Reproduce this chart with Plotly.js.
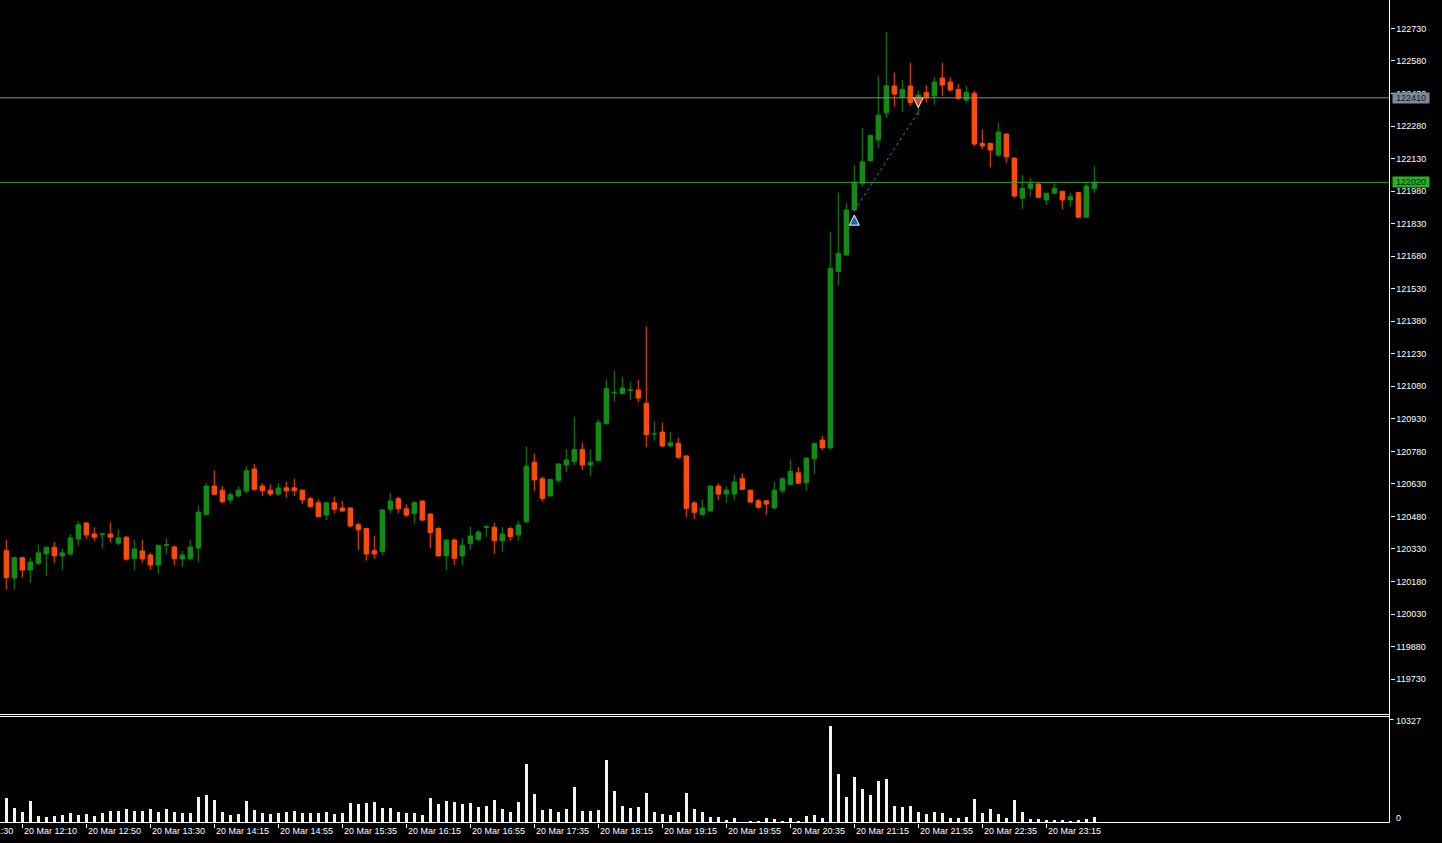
<!DOCTYPE html>
<html>
<head>
<meta charset="utf-8">
<script src="https://cdn.plot.ly/plotly-3.0.1.min.js"></script>
<style>
html,body{margin:0;padding:0;background:#000;overflow:hidden}
#chart{width:1442px;height:843px}
</style>
</head>
<body>
<div id="chart"></div>
<script>
// ---- data (5-minute bars, 20 Mar) ----
const opens = [120322,120196,120290,120233,120264,120307,120338,120298,120307,120376,120450,120399,120398,120399,120356,120384,120285,120321,120302,120256,120347,120339,120284,120285,120334,120488,120620,120601,120556,120574,120597,120699,120620,120601,120583,120612,120612,120601,120562,120543,120486,120543,120519,120519,120442,120424,120322,120318,120513,120562,120515,120494,120551,120491,120424,120298,120371,120298,120356,120374,120430,120430,120368,120424,120395,120456,120730,120654,120574,120645,120717,120733,120789,120717,120737,120907,121050,121046,121061,121063,121002,120860,120869,120805,120817,120759,120542,120488,120505,120620,120583,120583,120654,120601,120552,120552,120519,120598,120627,120681,120636,120746,120832,120796,121609,121685,121893,122016,122120,122215,122341,122464,122413,122464,122385,122434,122418,122501,122483,122449,122400,122431,122200,122200,122146,122243,122132,121947,121993,122013,121939,121970,121979,121939,121973,121859,121991];
const highs = [120371,120292,120292,120289,120349,120340,120362,120332,120399,120459,120452,120430,120400,120453,120422,120390,120371,120371,120313,120349,120379,120347,120321,120371,120528,120633,120691,120620,120591,120620,120712,120722,120633,120628,120633,120639,120654,120603,120571,120559,120545,120571,120552,120521,120452,120426,120390,120512,120589,120571,120536,120551,120553,120493,120433,120373,120379,120379,120433,120416,120440,120451,120430,120433,120461,120802,120771,120663,120653,120724,120789,120940,120820,120789,120928,121112,121152,121124,121101,121109,121355,120920,120912,120869,120843,120761,120551,120559,120622,120633,120617,120672,120679,120603,120562,120554,120639,120656,120743,120709,120751,120819,120851,121793,121973,121924,122100,122269,122239,122510,122715,122526,122492,122572,122443,122468,122505,122572,122505,122474,122465,122443,122265,122202,122295,122245,122134,122054,122039,122019,121972,122016,121981,121973,121975,122016,122096];
const lows = [120144,120144,120198,120175,120256,120205,120264,120233,120298,120345,120376,120368,120332,120359,120344,120276,120233,120267,120233,120214,120307,120256,120247,120276,120267,120486,120577,120540,120540,120568,120586,120598,120574,120574,120574,120566,120574,120537,120523,120477,120463,120494,120503,120429,120325,120276,120285,120301,120494,120494,120477,120448,120461,120333,120296,120233,120256,120256,120325,120364,120386,120307,120317,120368,120368,120448,120597,120548,120572,120633,120685,120717,120694,120667,120735,120905,121009,121044,121017,121007,120799,120829,120799,120799,120746,120476,120467,120486,120503,120556,120543,120556,120603,120544,120516,120488,120516,120586,120625,120630,120598,120675,120786,120786,121547,121683,121885,122000,122117,122177,122316,122369,122346,122372,122331,122388,122377,122418,122438,122400,122388,122188,122173,122089,122138,122110,121947,121896,121954,121949,121916,121968,121896,121908,121857,121857,121970];
const closes = [120198,120290,120233,120270,120312,120338,120298,120312,120381,120442,120395,120384,120400,120384,120381,120283,120330,120284,120256,120347,120349,120285,120302,120339,120500,120620,120582,120548,120580,120601,120691,120605,120598,120583,120611,120598,120598,120556,120525,120479,120543,120513,120505,120436,120418,120307,120307,120510,120551,120515,120486,120543,120463,120405,120298,120371,120287,120347,120390,120408,120432,120368,120399,120387,120441,120712,120648,120563,120651,120722,120740,120789,120717,120730,120912,121070,121052,121072,121063,121026,120857,120862,120805,120820,120753,120516,120499,120519,120620,120583,120601,120639,120605,120546,120522,120537,120601,120654,120688,120633,120749,120817,120796,121624,121693,121893,122016,122115,122237,122330,122465,122427,122449,122388,122423,122409,122483,122469,122446,122408,122434,122197,122188,122169,122252,122138,121957,121993,122013,121951,121970,121993,121939,121954,121859,122003,122019];
const volumes = [2400,1500,1100,2100,700,600,700,800,1000,800,900,700,1000,1200,1200,1400,1200,1200,1400,1100,1400,1100,1000,1000,2500,2700,2200,1100,800,900,2100,1300,1000,900,1000,1100,1200,1000,1000,1000,1100,900,1000,1900,1800,1900,2000,1500,1500,1100,1000,1000,800,2400,1800,2100,2000,1800,1900,1600,1700,2200,1400,1100,2000,5800,2800,1300,1400,1100,1400,3500,1200,1200,1300,6200,3100,1700,1500,1600,2900,1100,900,800,1100,2900,1400,1100,600,600,300,500,100,200,200,500,400,200,500,200,700,800,500,9650,4800,2500,4500,3300,2700,4100,4300,1700,1600,1700,1100,900,1100,1000,500,500,600,2300,1000,1400,900,500,2200,1100,400,400,300,300,300,200,300,400,600];

const timeTickBars = [2,10,18,26,34,42,50,58,66,74,82,90,98,106,114,122,130];
const timeTickLabels = ['20 Mar 12:10','20 Mar 12:50','20 Mar 13:30','20 Mar 14:15','20 Mar 14:55','20 Mar 15:35','20 Mar 16:15','20 Mar 16:55','20 Mar 17:35','20 Mar 18:15','20 Mar 19:15','20 Mar 19:55','20 Mar 20:35','20 Mar 21:15','20 Mar 21:55','20 Mar 22:35','20 Mar 23:15'];
const cutOffLabel = '20 Mar 11:30';
const priceTicks = [119730,119880,120030,120180,120330,120480,120630,120780,120930,121080,121230,121380,121530,121680,121830,121980,122130,122280,122430,122580,122730];
const volumeMaxLabel = 10327;
const levelPrice = 122410;   // grey horizontal level
const bidPrice = 122020;     // current bid line
const tradeBars = [106, 114];
const tradePrices = [121889, 122345];

// ---- drawing ----
const W = 1442, H = 843;
const AXX = 1389.5;              // right price-scale line (px)
const MAIN_BOTTOM = 714;         // px
const VOL_BOTTOM = 822.5, VOL_TOP = 719.2;
const fy = y => (H - y) / H;
const barIdx = opens.map((_, i) => i);

const GREEN = '#138c13', RED = '#ff4a0a';
const FONT = 'Liberation Sans, Arial, sans-serif';

const traces = [
  {
    type: 'candlestick', x: barIdx, open: opens, high: highs, low: lows, close: closes,
    xaxis: 'x', yaxis: 'y', whiskerwidth: 0, hoverinfo: 'skip',
    increasing: {line: {color: GREEN, width: 1}, fillcolor: GREEN},
    decreasing: {line: {color: RED, width: 1}, fillcolor: RED}
  },
  {
    type: 'bar', x: barIdx, y: volumes, xaxis: 'x', yaxis: 'y2', width: 0.42,
    marker: {color: '#f5f5ee', line: {width: 0}}, hoverinfo: 'skip'
  },
  {
    type: 'scatter', mode: 'lines', x: tradeBars, y: tradePrices, xaxis: 'x', yaxis: 'y',
    line: {color: '#3d74b8', width: 1, dash: 'dot'}, hoverinfo: 'skip'
  },
  {
    type: 'scatter', mode: 'markers', x: [tradeBars[0]], y: [tradePrices[0] - 20], xaxis: 'x', yaxis: 'y',
    marker: {symbol: 'arrow-up', size: 10, color: '#1d63c6', line: {color: '#ffffff', width: 1}}, hoverinfo: 'skip'
  },
  {
    type: 'scatter', mode: 'markers', x: [tradeBars[1]], y: [tradePrices[1] + 20], xaxis: 'x', yaxis: 'y',
    marker: {symbol: 'arrow-down', size: 10, color: '#e8402a', line: {color: '#ffffff', width: 1}}, hoverinfo: 'skip'
  }
];

const lineW = (x0, y0, x1, y1, c) => ({type: 'line', xref: 'paper', yref: 'paper',
  x0: x0 / W, x1: x1 / W, y0: fy(y0), y1: fy(y1), line: {color: c || '#ffffff', width: 1}});

const timeAnnotations = timeTickBars.map((b, i) => ({
  xref: 'x', x: b, xanchor: 'left', xshift: 0, yref: 'paper', y: fy(831), yanchor: 'middle',
  text: timeTickLabels[i], showarrow: false, font: {family: FONT, size: 9, color: '#ffffff'}
}));

const layout = {
  width: W, height: H, margin: {l: 0, r: 0, t: 0, b: 0},
  paper_bgcolor: '#000', plot_bgcolor: '#000', showlegend: false, hovermode: false,
  boxgap: 0.45, boxgroupgap: 0, bargap: 0,
  font: {family: FONT, size: 9, color: '#ffffff'},
  xaxis: {
    domain: [0, AXX / W], range: [(0 - 6.3) / 8, (AXX - 6.3) / 8], anchor: 'y2',
    showgrid: false, zeroline: false, showline: false,
    ticks: 'outside', ticklen: 4, tickwidth: 1, tickcolor: '#ffffff',
    tickmode: 'array', tickvals: timeTickBars, ticktext: timeTickLabels,
    showticklabels: false,
    rangeslider: {visible: false}, fixedrange: true
  },
  yaxis: {
    domain: [fy(MAIN_BOTTOM), 1], range: [122860.9 - 4.6104 * MAIN_BOTTOM, 122860.9],
    anchor: 'x', side: 'right', showgrid: false, zeroline: false, showline: false,
    ticks: 'outside', ticklen: 4, tickwidth: 1, tickcolor: '#ffffff',
    tickmode: 'array', tickvals: priceTicks, ticktext: priceTicks.map(String),
    tickfont: {size: 9, color: '#ffffff'}, fixedrange: true
  },
  yaxis2: {
    domain: [fy(VOL_BOTTOM), fy(VOL_TOP)], range: [0, volumeMaxLabel],
    anchor: 'x', side: 'right', showgrid: false, zeroline: false, showline: false,
    showticklabels: false, ticks: '', fixedrange: true
  },
  shapes: [
    {type: 'line', xref: 'paper', x0: 0, x1: AXX / W, yref: 'y', y0: levelPrice, y1: levelPrice,
      line: {color: '#7d8da0', width: 1}},
    {type: 'line', xref: 'paper', x0: 0, x1: AXX / W, yref: 'y', y0: bidPrice, y1: bidPrice,
      line: {color: '#2aa52a', width: 1}},
    lineW(AXX, 0, AXX, VOL_BOTTOM),
    lineW(0, 714.5, AXX, 714.5),
    lineW(0, 716.5, AXX, 716.5),
    lineW(0, VOL_BOTTOM, AXX, VOL_BOTTOM),
    lineW(AXX, 719.5, AXX + 4, 719.5)
  ],
  annotations: timeAnnotations.concat([
    {xref: 'paper', x: 1392 / W, xanchor: 'left', yref: 'y', y: levelPrice, yanchor: 'middle',
      text: String(levelPrice), showarrow: false, bgcolor: '#7a8a9c', width: 36, height: 10,
      borderpad: 0, font: {size: 9, color: '#101820'}},
    {xref: 'paper', x: 1392 / W, xanchor: 'left', yref: 'y', y: bidPrice, yanchor: 'middle',
      text: String(bidPrice), showarrow: false, bgcolor: '#25b025', width: 36, height: 10,
      borderpad: 0, font: {size: 9, color: '#0a200a'}},
    {xref: 'paper', x: 1394 / W, xanchor: 'left', yref: 'paper', y: fy(721), yanchor: 'middle',
      text: String(volumeMaxLabel), showarrow: false, font: {size: 9, color: '#ffffff'}},
    {xref: 'paper', x: 1394 / W, xanchor: 'left', yref: 'paper', y: fy(818), yanchor: 'middle',
      text: '0', showarrow: false, font: {size: 9, color: '#ffffff'}},
    {xref: 'paper', x: (6.3 + 8 * (-6) + 1) / W, xanchor: 'left', yref: 'paper', y: fy(831), yanchor: 'middle',
      text: cutOffLabel, showarrow: false, font: {size: 9, color: '#ffffff'}}
  ])
};

Plotly.newPlot('chart', traces, layout, {displayModeBar: false, staticPlot: true});
</script>
</body>
</html>
